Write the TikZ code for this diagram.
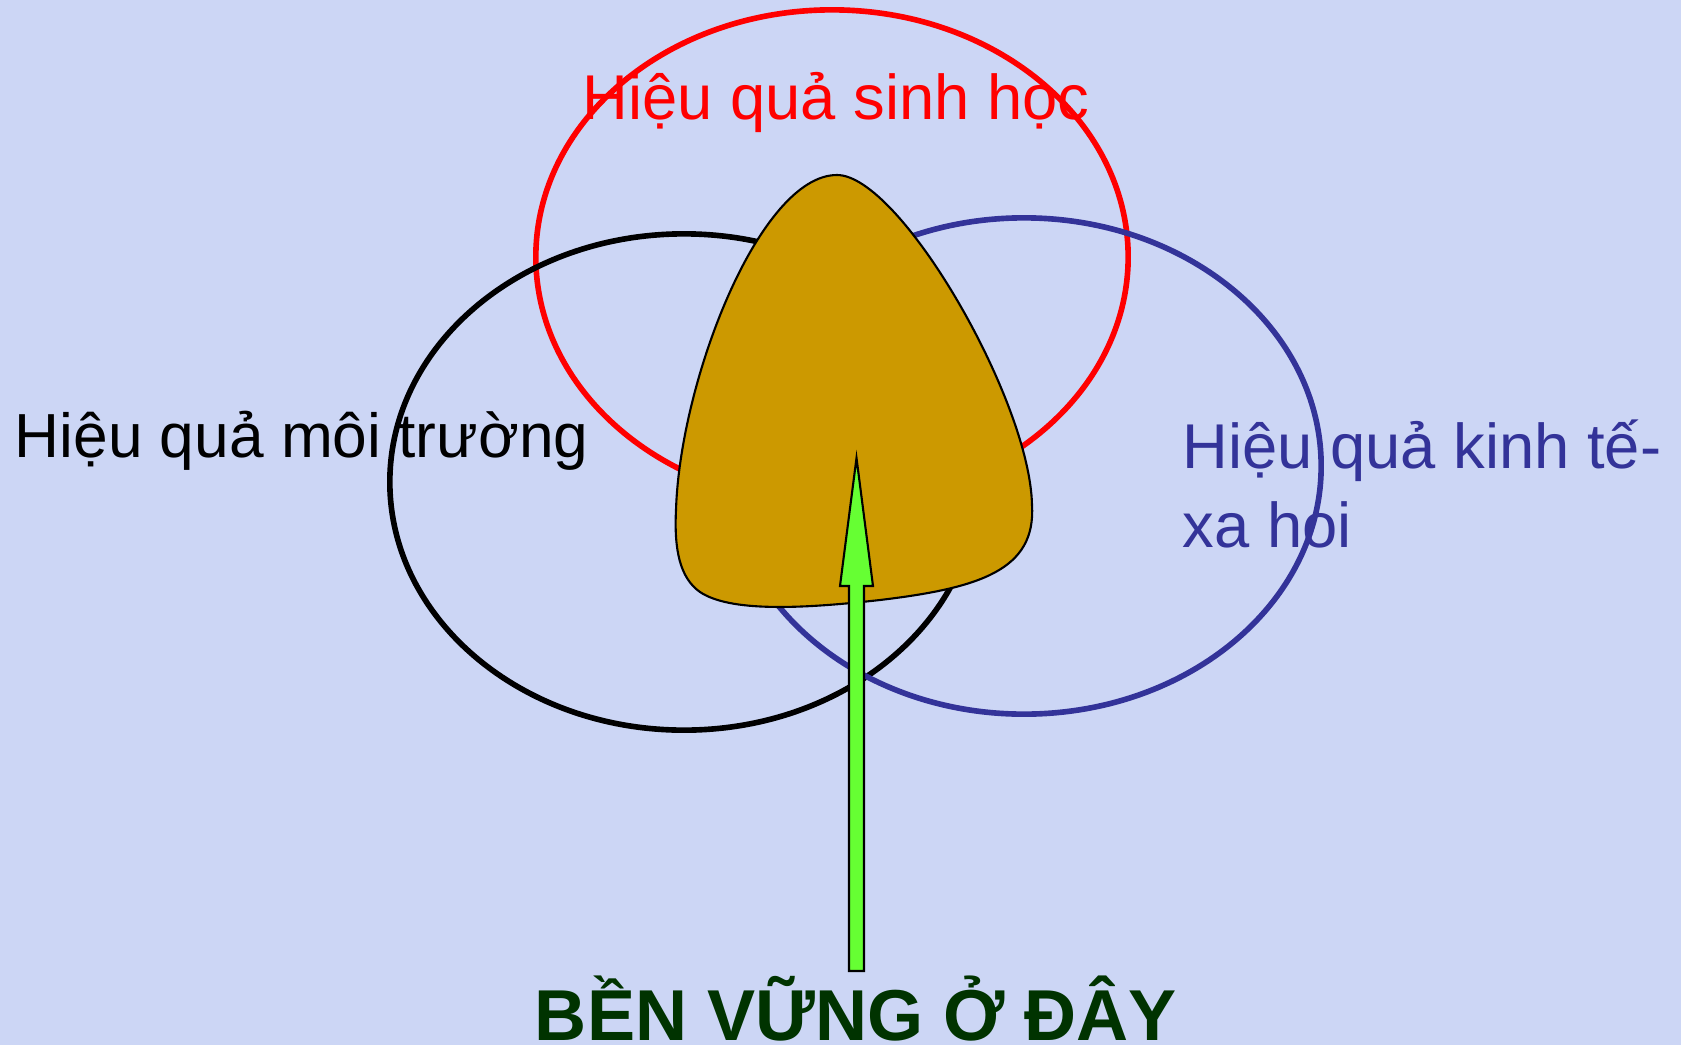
\documentclass[tikz,border=0pt]{standalone}
\usepackage{fontspec}
\setmainfont{Liberation Sans}
\usetikzlibrary{positioning}
\definecolor{bgblue}{RGB}{204,214,245}
\definecolor{sinhred}{RGB}{255,0,0}
\definecolor{kinhblue}{RGB}{51,51,153}
\definecolor{leafgold}{RGB}{204,153,0}
\definecolor{arrowgreen}{RGB}{102,255,51}
\definecolor{darkgreen}{RGB}{0,51,0}

\begin{document}
\begin{tikzpicture}[
    x=0.01cm, y=-0.01cm,
    ring/.style={draw=#1, line width=1.6pt},
    lbl/.style={font=\fontsize{18}{22.2}\selectfont, text=#1, inner sep=0pt, anchor=base west, align=left},
    blob/.style={draw=black, line width=0.6pt, fill=leafgold},
    bigarrow/.style={draw=black, line width=0.6pt, fill=arrowgreen},
    title/.style={font=\fontsize{20.5}{24}\selectfont\bfseries, text=darkgreen, inner sep=0pt, anchor=base},
]

% ── Background ──
\fill[bgblue] (0,0) rectangle (1681,1045);

% ── Three circles ──
\draw[ring=sinhred] (832,257) ellipse [x radius=2.96cm, y radius=2.47cm];
\draw[ring=black] (684,482) ellipse [x radius=2.94cm, y radius=2.48cm];
\draw[ring=kinhblue] (1024,466) ellipse [x radius=2.97cm, y radius=2.48cm];

% ── Overlap ──
\draw[blob] (676,510) .. controls (680,380) and (760,175) .. (837,175)
    .. controls (900,175) and (1030,400) .. (1032,505)
    .. controls (1036,570) and (980,588) .. (880,600)
    .. controls (800,609) and (730,612) .. (700,592)
    .. controls (680,578) and (674,550) .. (676,510) -- cycle;

% ── Labels ──
\node[lbl=sinhred] (sinh) at (582,119) {Hiệu quả sinh học};
\node[lbl=black, font=\fontsize{17.7}{22}\selectfont] (moi) at (14,457) {Hiệu quả môi trường};
\node[lbl=kinhblue] (kinh) at (1182,547) {Hiệu quả kinh tế-\\xa hoi};
\node[title] (ben) at (856,1040) {BỀN VỮNG \symbol{"1EDE} ĐÂY};

% ── Arrow ──
\coordinate (tip) at (856.5,458);
\coordinate (tail) at (856.5,971);
\draw[bigarrow] (tail) ++(-7.5,0) -- ++(0,-385) -- ++(-9,0) -- (tip)
    -- ++(16.5,128) -- ++(-9,0) -- ++(0,385) -- cycle;

\end{tikzpicture}
\end{document}
